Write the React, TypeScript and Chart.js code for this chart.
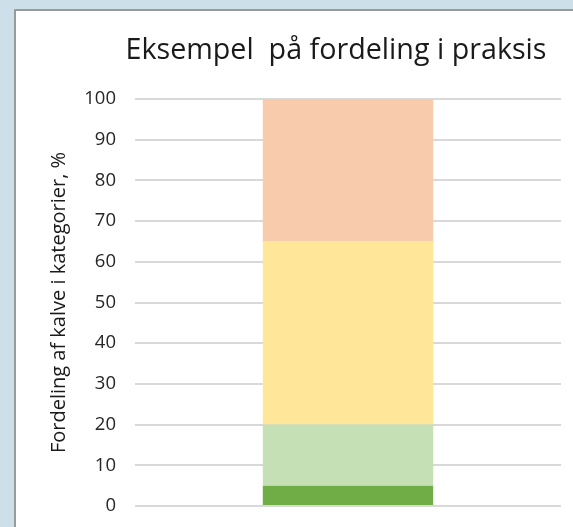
import React, { useEffect, useRef } from "react";
import { Chart, registerables } from "chart.js";

Chart.register(...registerables);

const chartTitle = "Eksempel  på fordeling i praksis";
const yAxisTitle = "Fordeling af kalve i kategorier, %";
const categories = [""];
const seriesNames = ["Kategori 1", "Kategori 2", "Kategori 3", "Kategori 4"];
const series1 = [5];
const series2 = [15];
const series3 = [45];
const series4 = [35];
const seriesColors = ["#70ad47", "#c5e0b4", "#ffe699", "#f8cbad"];
const yMin = 0;
const yMax = 100;
const yStep = 10;

const FONT = "'Open Sans', 'Noto Sans', sans-serif";

const titlePlugin = {
  id: "customTitle",
  afterDraw(chart: any) {
    const ctx = chart.ctx;
    ctx.save();
    ctx.font = `28.7px ${FONT}`;
    ctx.fillStyle = "#1a1a1a";
    ctx.textAlign = "center";
    ctx.textBaseline = "alphabetic";
    ctx.fillText(chartTitle, 336, 59);
    ctx.restore();
  },
};

export default function App() {
  const ref = useRef<HTMLCanvasElement>(null);
  useEffect(() => {
    const values = [series1, series2, series3, series4];
    const chart = new Chart(ref.current as HTMLCanvasElement, {
      type: "bar",
      data: {
        labels: categories,
        datasets: values.map((v, i) => ({
          label: seriesNames[i],
          data: v,
          backgroundColor: seriesColors[i],
          borderWidth: 0,
          barPercentage: 0.4,
          categoryPercentage: 1,
        })),
      },
      options: {
        responsive: false,
        animation: false,
        devicePixelRatio: 1,
        layout: { padding: { top: 99, right: 12, bottom: 21, left: 0 } },
        plugins: {
          legend: { display: false },
          title: { display: false },
          tooltip: { enabled: false },
        },
        scales: {
          x: { stacked: true, display: false },
          y: {
            stacked: true,
            min: yMin,
            max: yMax,
            ticks: {
              stepSize: yStep,
              padding: 19,
              color: "#262626",
              font: { family: FONT, size: 18.5 },
            },
            grid: { color: "#d9d9d9", lineWidth: 2, drawTicks: false },
            border: { display: false },
            title: {
              display: true,
              text: yAxisTitle,
              color: "#1a1a1a",
              font: { family: FONT, size: 20 },
              padding: { top: 47, bottom: 0 },
            },
            afterFit(scale: any) {
              scale.width = 135;
              scale.paddingTop = 0;
              scale.paddingBottom = 0;
            },
          },
        },
      },
      plugins: [titlePlugin],
    });
    return () => chart.destroy();
  }, []);
  return (
    <div style={{ position: "fixed", left: 0, top: 0, width: 573, height: 527, background: "#cddfe9", overflow: "hidden" }}>
      <div style={{ position: "absolute", left: 14, top: 9, width: 640, height: 600, background: "#fff", borderLeft: "2px solid #9a9a9a", borderTop: "2px solid #9a9a9a" }} />
      <canvas ref={ref} width={573} height={527} style={{ position: "absolute", left: 0, top: 0, width: 573, height: 527 }} />
    </div>
  );
}
